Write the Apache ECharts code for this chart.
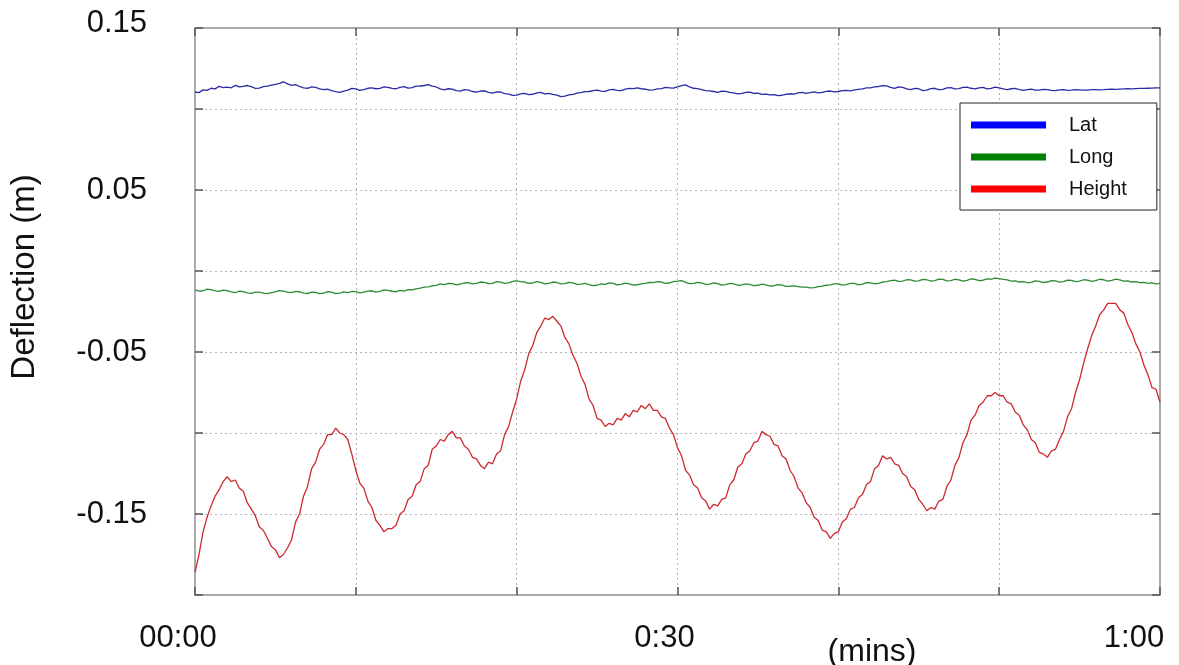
<!DOCTYPE html>
<html>
<head>
<meta charset="utf-8">
<script src="https://cdn.jsdelivr.net/npm/echarts@6/dist/echarts.min.js"></script>
<style>
  html, body { margin: 0; padding: 0; background: #fff; }
  #chart { width: 1179px; height: 665px; }
</style>
</head>
<body>
<div id="chart"></div>
<script>
// Deflection traces sampled every quarter second over one minute (metres)
const sampleStep = 0.25;

const latDeflection = [
  0.1105, 0.1101, 0.1118, 0.1115, 0.1128, 0.1124, 0.1140, 0.1132,
  0.1135, 0.1131, 0.1146, 0.1137, 0.1140, 0.1145, 0.1138, 0.1127,
  0.1129, 0.1138, 0.1141, 0.1147, 0.1152, 0.1158, 0.1168, 0.1155,
  0.1146, 0.1150, 0.1139, 0.1131, 0.1128, 0.1137, 0.1134, 0.1124,
  0.1119, 0.1122, 0.1114, 0.1107, 0.1103, 0.1111, 0.1116, 0.1127,
  0.1124, 0.1115, 0.1119, 0.1128, 0.1131, 0.1125, 0.1127, 0.1136,
  0.1134, 0.1127, 0.1125, 0.1133, 0.1138, 0.1129, 0.1132, 0.1141,
  0.1142, 0.1145, 0.1150, 0.1141, 0.1136, 0.1124, 0.1118, 0.1125,
  0.1123, 0.1113, 0.1110, 0.1120, 0.1116, 0.1108, 0.1104, 0.1111,
  0.1112, 0.1103, 0.1098, 0.1106, 0.1105, 0.1095, 0.1092, 0.1084,
  0.1086, 0.1094, 0.1097, 0.1089, 0.1091, 0.1099, 0.1102, 0.1093,
  0.1096, 0.1090, 0.1085, 0.1076, 0.1079, 0.1087, 0.1090, 0.1098,
  0.1101, 0.1107, 0.1108, 0.1114, 0.1116, 0.1110, 0.1109, 0.1118,
  0.1121, 0.1115, 0.1114, 0.1123, 0.1127, 0.1126, 0.1131, 0.1125,
  0.1122, 0.1116, 0.1118, 0.1124, 0.1126, 0.1133, 0.1131, 0.1129,
  0.1137, 0.1144, 0.1149, 0.1136, 0.1128, 0.1126, 0.1120, 0.1113,
  0.1112, 0.1108, 0.1103, 0.1110, 0.1109, 0.1103, 0.1100, 0.1094,
  0.1097, 0.1103, 0.1104, 0.1097, 0.1098, 0.1090, 0.1092, 0.1087,
  0.1089, 0.1082, 0.1085, 0.1091, 0.1094, 0.1092, 0.1099, 0.1103,
  0.1096, 0.1101, 0.1106, 0.1099, 0.1102, 0.1109, 0.1111, 0.1106,
  0.1108, 0.1113, 0.1115, 0.1112, 0.1118, 0.1121, 0.1124, 0.1130,
  0.1131, 0.1136, 0.1139, 0.1144, 0.1143, 0.1133, 0.1127, 0.1136,
  0.1133, 0.1124, 0.1119, 0.1127, 0.1125, 0.1114, 0.1117, 0.1126,
  0.1128, 0.1120, 0.1121, 0.1130, 0.1132, 0.1124, 0.1126, 0.1134,
  0.1135, 0.1128, 0.1124, 0.1131, 0.1133, 0.1124, 0.1127, 0.1135,
  0.1131, 0.1124, 0.1120, 0.1125, 0.1127, 0.1119, 0.1115, 0.1120,
  0.1122, 0.1116, 0.1116, 0.1121, 0.1120, 0.1115, 0.1114, 0.1118,
  0.1119, 0.1115, 0.1116, 0.1119, 0.1118, 0.1116, 0.1117, 0.1119,
  0.1120, 0.1118, 0.1119, 0.1121, 0.1122, 0.1121, 0.1123, 0.1124,
  0.1125, 0.1124, 0.1126, 0.1127, 0.1127, 0.1128, 0.1129, 0.1130,
  0.1131
];

const longDeflection = [
  -0.0117, -0.0124, -0.0122, -0.0112, -0.0115, -0.0123, -0.0126, -0.0118,
  -0.0121, -0.0129, -0.0133, -0.0125, -0.0127, -0.0135, -0.0138, -0.0130,
  -0.0131, -0.0137, -0.0140, -0.0133, -0.0129, -0.0121, -0.0124, -0.0130,
  -0.0133, -0.0126, -0.0128, -0.0136, -0.0139, -0.0131, -0.0132, -0.0140,
  -0.0136, -0.0128, -0.0130, -0.0139, -0.0137, -0.0129, -0.0133, -0.0126,
  -0.0127, -0.0135, -0.0131, -0.0124, -0.0122, -0.0130, -0.0126, -0.0117,
  -0.0119, -0.0125, -0.0128, -0.0120, -0.0124, -0.0115, -0.0117, -0.0111,
  -0.0106, -0.0100, -0.0098, -0.0092, -0.0089, -0.0080, -0.0084, -0.0077,
  -0.0078, -0.0085, -0.0081, -0.0074, -0.0072, -0.0080, -0.0077, -0.0068,
  -0.0070, -0.0078, -0.0076, -0.0066, -0.0069, -0.0077, -0.0073, -0.0064,
  -0.0061, -0.0066, -0.0068, -0.0077, -0.0074, -0.0066, -0.0070, -0.0079,
  -0.0076, -0.0068, -0.0071, -0.0080, -0.0078, -0.0070, -0.0073, -0.0082,
  -0.0081, -0.0077, -0.0084, -0.0090, -0.0088, -0.0080, -0.0082, -0.0073,
  -0.0076, -0.0085, -0.0083, -0.0075, -0.0079, -0.0087, -0.0085, -0.0079,
  -0.0077, -0.0070, -0.0072, -0.0065, -0.0068, -0.0076, -0.0074, -0.0066,
  -0.0063, -0.0059, -0.0070, -0.0078, -0.0077, -0.0070, -0.0073, -0.0082,
  -0.0081, -0.0074, -0.0078, -0.0087, -0.0084, -0.0077, -0.0079, -0.0088,
  -0.0086, -0.0079, -0.0082, -0.0090, -0.0088, -0.0081, -0.0085, -0.0093,
  -0.0091, -0.0084, -0.0087, -0.0095, -0.0094, -0.0092, -0.0096, -0.0100,
  -0.0099, -0.0104, -0.0102, -0.0096, -0.0093, -0.0088, -0.0086, -0.0079,
  -0.0080, -0.0087, -0.0084, -0.0076, -0.0077, -0.0085, -0.0081, -0.0072,
  -0.0073, -0.0079, -0.0076, -0.0068, -0.0066, -0.0060, -0.0057, -0.0064,
  -0.0063, -0.0054, -0.0055, -0.0063, -0.0061, -0.0052, -0.0054, -0.0062,
  -0.0059, -0.0050, -0.0052, -0.0061, -0.0060, -0.0051, -0.0055, -0.0063,
  -0.0058, -0.0049, -0.0051, -0.0059, -0.0057, -0.0048, -0.0050, -0.0044,
  -0.0047, -0.0052, -0.0055, -0.0063, -0.0061, -0.0068, -0.0066, -0.0072,
  -0.0070, -0.0061, -0.0064, -0.0071, -0.0068, -0.0059, -0.0061, -0.0069,
  -0.0065, -0.0056, -0.0058, -0.0066, -0.0063, -0.0054, -0.0056, -0.0064,
  -0.0060, -0.0051, -0.0054, -0.0062, -0.0058, -0.0050, -0.0055, -0.0063,
  -0.0061, -0.0068, -0.0066, -0.0072, -0.0070, -0.0076, -0.0073, -0.0079,
  -0.0076
];

const heightDeflection = [
  -0.186, -0.175, -0.161, -0.152, -0.145, -0.139, -0.135, -0.130,
  -0.127, -0.130, -0.129, -0.134, -0.136, -0.143, -0.147, -0.151,
  -0.158, -0.160, -0.165, -0.170, -0.172, -0.177, -0.175, -0.171,
  -0.166, -0.155, -0.150, -0.139, -0.133, -0.122, -0.118, -0.110,
  -0.107, -0.101, -0.101, -0.097, -0.100, -0.101, -0.104, -0.113,
  -0.123, -0.131, -0.134, -0.142, -0.146, -0.154, -0.157, -0.161,
  -0.159, -0.159, -0.157, -0.150, -0.148, -0.141, -0.139, -0.132,
  -0.130, -0.122, -0.120, -0.110, -0.108, -0.104, -0.105, -0.101,
  -0.099, -0.103, -0.103, -0.108, -0.110, -0.115, -0.116, -0.120,
  -0.122, -0.118, -0.119, -0.113, -0.111, -0.101, -0.096, -0.087,
  -0.079, -0.068, -0.061, -0.051, -0.046, -0.038, -0.034, -0.029,
  -0.030, -0.028, -0.031, -0.034, -0.041, -0.045, -0.052, -0.057,
  -0.065, -0.070, -0.079, -0.083, -0.091, -0.092, -0.096, -0.094,
  -0.095, -0.091, -0.092, -0.088, -0.090, -0.086, -0.087, -0.083,
  -0.085, -0.082, -0.086, -0.086, -0.090, -0.091, -0.097, -0.101,
  -0.109, -0.114, -0.123, -0.126, -0.132, -0.134, -0.140, -0.142,
  -0.147, -0.144, -0.145, -0.141, -0.140, -0.132, -0.129, -0.121,
  -0.119, -0.113, -0.111, -0.106, -0.105, -0.099, -0.101, -0.102,
  -0.107, -0.108, -0.114, -0.116, -0.123, -0.127, -0.134, -0.137,
  -0.143, -0.146, -0.152, -0.154, -0.160, -0.161, -0.165, -0.162,
  -0.161, -0.155, -0.153, -0.147, -0.146, -0.140, -0.138, -0.132,
  -0.130, -0.122, -0.120, -0.114, -0.116, -0.115, -0.119, -0.120,
  -0.125, -0.127, -0.133, -0.135, -0.141, -0.144, -0.148, -0.146,
  -0.147, -0.142, -0.141, -0.133, -0.129, -0.120, -0.115, -0.106,
  -0.101, -0.092, -0.089, -0.083, -0.081, -0.077, -0.077, -0.075,
  -0.077, -0.077, -0.081, -0.082, -0.087, -0.089, -0.095, -0.098,
  -0.104, -0.106, -0.112, -0.113, -0.115, -0.111, -0.110, -0.104,
  -0.099, -0.090, -0.085, -0.075, -0.067, -0.057, -0.048, -0.040,
  -0.034, -0.027, -0.024, -0.020, -0.020, -0.020, -0.024, -0.026,
  -0.033, -0.038, -0.045, -0.050, -0.058, -0.064, -0.072, -0.073,
  -0.081
];

const seriesNames = ['Lat', 'Long', 'Height'];
const legendColors = ['#0000ff', '#008000', '#ff0000'];
const traceColors = ['#2b2ba6', '#2f8a35', '#cc2a30'];

const yTickValues = [0.15, 0.05, -0.05, -0.15];
const yTickLabels = ['0.15', '0.05', '-0.05', '-0.15'];
const xTickValues = [0, 30, 60];
const xTickLabels = ['00:00', '0:30', '1:00'];
const yAxisTitle = 'Deflection (m)';
const xAxisTitle = '(mins)';

const FONT = '"Liberation Sans", Arial, sans-serif';

function toPairs(values) {
  return values.map((v, i) => [i * sampleStep, v]);
}

function findTick(v, ticks) {
  for (let i = 0; i < ticks.length; i++) {
    if (Math.abs(v - ticks[i]) < 1e-9) return i;
  }
  return -1;
}

const tickStyle = { inside: true, length: 8, lineStyle: { color: '#555', width: 1.5 } };
const gridLineStyle = { show: true, lineStyle: { type: [2, 3], color: '#b3b3b3', width: 1 } };
const hiddenLine = { show: false, onZero: false };

const chart = echarts.init(document.getElementById('chart'), null, { renderer: 'canvas' });

const traces = [latDeflection, longDeflection, heightDeflection];

chart.setOption({
  animation: false,
  backgroundColor: '#ffffff',
  grid: {
    left: 195, top: 28, right: 19, bottom: 70,
    show: true, borderColor: '#8c8c8c', borderWidth: 1.5, backgroundColor: 'transparent'
  },
  legend: {
    orient: 'vertical',
    left: 960, top: 103,
    icon: 'rect',
    itemWidth: 75, itemHeight: 7, itemGap: 12,
    padding: [12, 30, 11, 11],
    borderColor: '#222', borderWidth: 1, backgroundColor: '#fff',
    selectedMode: false,
    textStyle: { fontFamily: FONT, fontSize: 20, color: '#111', lineHeight: 20, padding: [0, 0, 0, 18] },
    data: seriesNames.map((n, i) => ({ name: n, itemStyle: { color: legendColors[i], borderWidth: 0 } }))
  },
  xAxis: [
    {
      type: 'value', min: 0, max: 60, interval: 10, position: 'bottom',
      axisLine: hiddenLine,
      axisTick: tickStyle,
      splitLine: gridLineStyle,
      axisLabel: {
        margin: 28,
        fontFamily: FONT, fontSize: 31, color: '#111',
        formatter: v => {
          const i = findTick(v, xTickValues);
          return i < 0 ? '' : '{l' + i + '|' + xTickLabels[i] + '}';
        },
        rich: {
          l0: { fontFamily: FONT, fontSize: 31, color: '#111', padding: [0, 34, 0, 0] },
          l1: { fontFamily: FONT, fontSize: 31, color: '#111', padding: [0, 26, 0, 0] },
          l2: { fontFamily: FONT, fontSize: 31, color: '#111', padding: [0, 52, 0, 0] }
        }
      }
    },
    {
      type: 'value', min: 0, max: 60, interval: 10, position: 'top',
      axisLine: hiddenLine, axisTick: tickStyle,
      axisLabel: { show: false }, splitLine: { show: false }
    }
  ],
  yAxis: [
    {
      type: 'value', min: -0.2, max: 0.15, interval: 0.05, position: 'left',
      axisLine: hiddenLine,
      axisTick: tickStyle,
      splitLine: gridLineStyle,
      axisLabel: {
        margin: 48,
        fontFamily: FONT, fontSize: 31, color: '#111',
        formatter: v => {
          const i = findTick(v, yTickValues);
          if (i < 0) return '';
          return i === 0 ? '{top|' + yTickLabels[i] + '}' : yTickLabels[i];
        },
        rich: {
          top: { fontFamily: FONT, fontSize: 31, color: '#111', padding: [0, 0, 10, 0] }
        }
      }
    },
    {
      type: 'value', min: -0.2, max: 0.15, interval: 0.05, position: 'right',
      axisLine: hiddenLine, axisTick: tickStyle,
      axisLabel: { show: false }, splitLine: { show: false }
    }
  ],
  graphic: [
    {
      type: 'text', x: 25, y: 277, rotation: Math.PI / 2,
      style: { text: yAxisTitle, fontFamily: FONT, fontSize: 33, fill: '#111', align: 'center', verticalAlign: 'middle' }
    },
    {
      type: 'text', x: 872, y: 652,
      style: { text: xAxisTitle, fontFamily: FONT, fontSize: 32, fill: '#111', align: 'center', verticalAlign: 'middle' }
    }
  ],
  series: traces.map((values, i) => ({
    name: seriesNames[i],
    type: 'line',
    xAxisIndex: 0, yAxisIndex: 0,
    showSymbol: false,
    symbol: 'none',
    color: legendColors[i],
    lineStyle: { color: traceColors[i], width: 1.3 },
    z: 3,
    data: toPairs(values)
  }))
});
</script>
</body>
</html>
